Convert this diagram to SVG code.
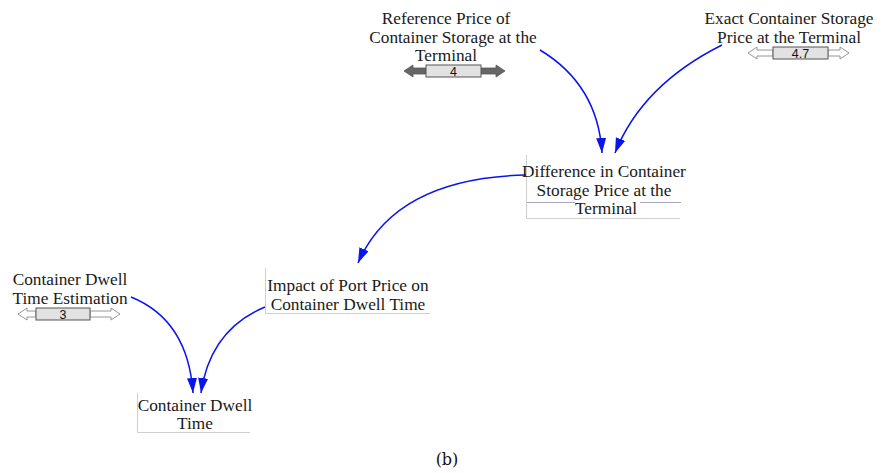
<svg xmlns="http://www.w3.org/2000/svg" width="893" height="473" viewBox="0 0 893 473">
<style>
.t{font-family:"Liberation Serif","Times New Roman",serif;font-size:17.3px;fill:#1a1a1a;text-anchor:middle}
.n{font-family:"Liberation Sans",Arial,sans-serif;font-size:12.5px;fill:#111;text-anchor:middle}
.edge{fill:none;stroke:#0a14ee;stroke-width:1.5}
.frame{fill:none;stroke:#cfcfcf;stroke-width:1}
.sbox{fill:#e2e2e2;stroke:#555;stroke-width:1}
.arrD{fill:#666;stroke:#555;stroke-width:0.8}
.arrH{fill:#fff;stroke:#8a8a8a;stroke-width:0.9}
</style>
<defs>
<marker id="ah" markerUnits="userSpaceOnUse" markerWidth="16" markerHeight="12" refX="15" refY="5" orient="auto">
<path d="M0,0 L15,5 L0,10 Z" fill="#0a14ee"/>
</marker>
</defs>
<rect width="893" height="473" fill="#fff"/>

<g id="connectors">
<path class="edge" d="M540,50 Q598,85 602,153" marker-end="url(#ah)"/>
<path class="edge" d="M722,45 Q642,85 615,153" marker-end="url(#ah)"/>
<path class="edge" d="M526,175 Q395,178 358,263" marker-end="url(#ah)"/>
<path class="edge" d="M131,297 Q188,320 193,393" marker-end="url(#ah)"/>
<path class="edge" d="M265,307 Q210,330 201,393" marker-end="url(#ah)"/>
</g>

<g id="reference-price">
<text class="t" x="446" y="24">Reference Price of</text>
<text class="t" x="453" y="43">Container Storage at the</text>
<text class="t" x="446" y="61">Terminal</text>
<polygon class="arrD" points="404,71 413,65 413,68 426,68 426,74 413,74 413,77"/>
<polygon class="arrD" points="505,71 496,65 496,68 481,68 481,74 496,74 496,77"/>
<rect class="sbox" x="426" y="65" width="55" height="12"/>
<text class="n" x="453.5" y="76">4</text>
</g>

<g id="exact-price">
<text class="t" x="789" y="24">Exact Container Storage</text>
<text class="t" x="789" y="43">Price at the Terminal</text>
<polygon class="arrH" points="748,53 757,47 757,50 773,50 773,56 757,56 757,59"/>
<polygon class="arrH" points="849,53 840,47 840,50 828,50 828,56 840,56 840,59"/>
<rect class="sbox" x="773" y="47" width="55" height="12"/>
<text class="n" x="800.5" y="58">4.7</text>
</g>

<g id="difference">
<path class="frame" d="M526.5,155 V218.5 H680"/>
<path d="M527,202.5 H575 M640,202.5 H681" stroke="#a7a7c4" stroke-width="1" fill="none"/>
<text class="t" x="604" y="177">Difference in Container</text>
<text class="t" x="604" y="196">Storage Price at the</text>
<text class="t" x="606" y="214">Terminal</text>
</g>

<g id="impact">
<path class="frame" d="M265.5,268 V313.5 H430"/>
<text class="t" x="348" y="291">Impact of Port Price on</text>
<text class="t" x="348" y="310">Container Dwell Time</text>
</g>

<g id="dwell-estimation">
<text class="t" x="70" y="285">Container Dwell</text>
<text class="t" x="70" y="304">Time Estimation</text>
<polygon class="arrH" points="18,314 27,308 27,311 36,311 36,317 27,317 27,320"/>
<polygon class="arrH" points="120,314 111,308 111,311 90,311 90,317 111,317 111,320"/>
<rect class="sbox" x="36" y="308" width="54" height="12"/>
<text class="n" x="63" y="319">3</text>
</g>

<g id="dwell-time">
<path class="frame" d="M137.5,393 V432.5 H250"/>
<text class="t" x="195" y="411">Container Dwell</text>
<text class="t" x="195" y="429">Time</text>
</g>

<text x="447" y="465" style="font-family:'DejaVu Serif','Liberation Serif',serif;font-size:16px;fill:#111;text-anchor:middle">(b)</text>
</svg>
